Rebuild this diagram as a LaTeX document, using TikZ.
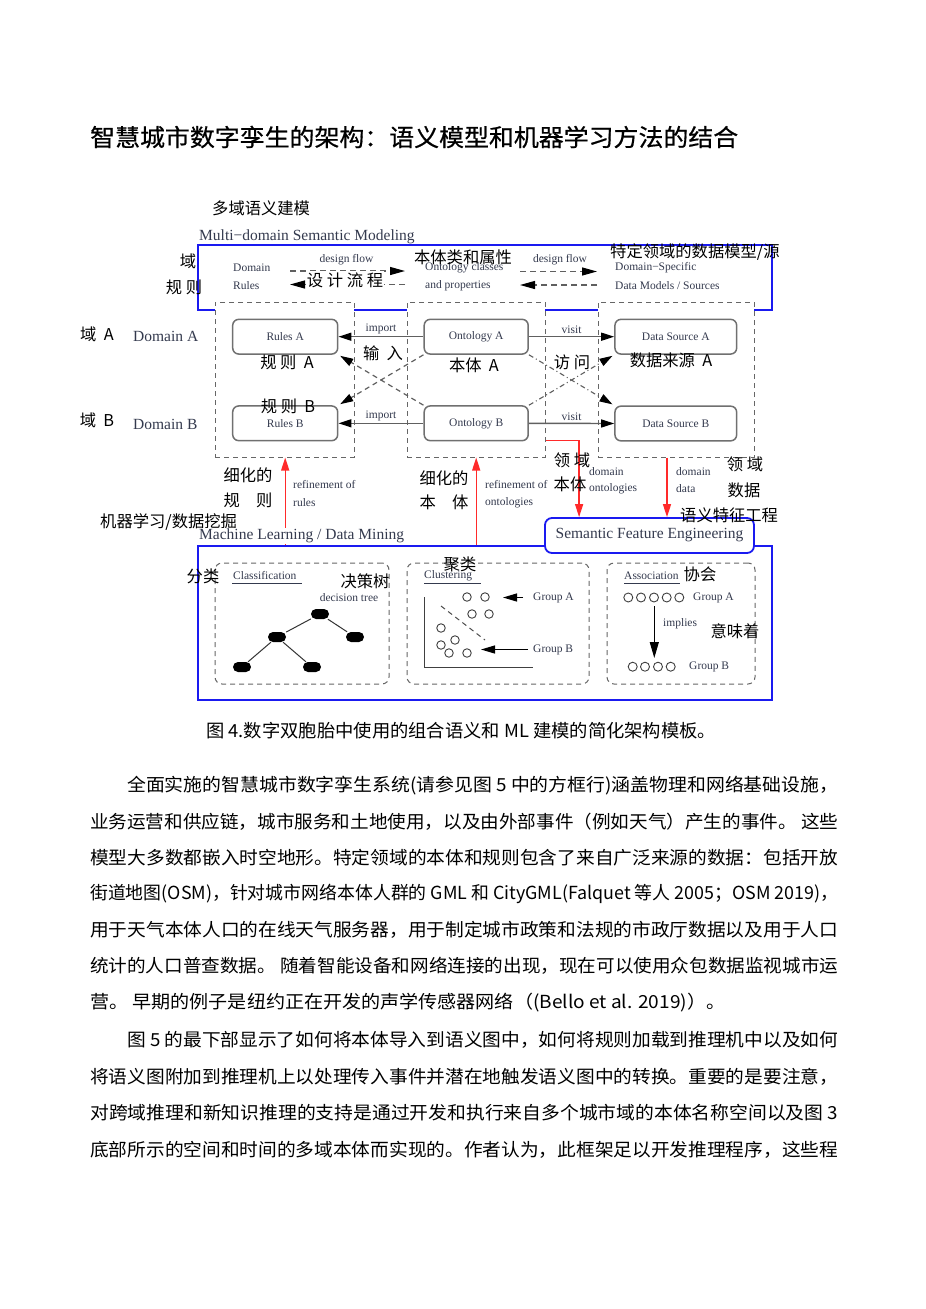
\documentclass[tikz,border=0pt]{standalone}
\usepackage{fontspec}
\usepackage{graphicx}
\usetikzlibrary{arrows.meta,calc}
\newfontfamily\cjk{Noto Sans CJK SC}
\newfontfamily\cjktitle[FakeBold=0.6]{Noto Sans CJK SC}
\newfontfamily\figserif{Liberation Serif}
\definecolor{figtext}{HTML}{343A4E}
\definecolor{boxgray}{HTML}{707070}
\definecolor{dashgray}{HTML}{666666}
\definecolor{linegray}{HTML}{606060}
\definecolor{figblue}{HTML}{1A1AF0}
\definecolor{figred}{HTML}{FF2A2A}
\newcommand{\fitw}[2]{\resizebox{#1}{\height}{#2}}
\tikzset{
  ftxt/.style={font=\figserif\fontsize{11.5}{13}\selectfont, text=figtext, inner sep=0pt},
  fbig/.style={font=\figserif\fontsize{15.5}{17}\selectfont, text=figtext, inner sep=0pt},
  ann/.style={font=\cjk\fontsize{16.3}{18}\selectfont, text=black, inner sep=0pt},
  body/.style={font=\cjk\fontsize{18}{20}\selectfont, text=black, inner sep=0pt, anchor=west},
  rbox/.style={draw=boxgray, line width=1.5pt, rounded corners=6pt, fill=white, inner sep=0pt, minimum height=34.7pt, font=\figserif\fontsize{11.5}{13}\selectfont, text=figtext},
  dcol/.style={draw=dashgray, line width=1pt, dash pattern=on 5pt off 4pt, fill=white, inner sep=0pt, minimum height=155pt},
  dbox/.style={draw=dashgray, line width=1pt, dash pattern=on 5pt off 4pt, rounded corners=7pt, inner sep=0pt, minimum height=121pt},
  bluebox/.style={draw=figblue, line width=1.8pt, inner sep=0pt},
  sfebox/.style={draw=figblue, line width=1.8pt, rounded corners=7pt, fill=white, inner sep=0pt, minimum width=209pt, minimum height=35pt, font=\figserif\fontsize{15.5}{17}\selectfont, text=figtext},
  solidarr/.style={draw=linegray, line width=1.4pt, -{Triangle[length=13pt,width=8pt,color=black]}},
  dasharr/.style={draw=linegray, line width=1.2pt, dash pattern=on 5pt off 4pt, -{Triangle[length=13pt,width=8pt,color=black]}},
  dotarr/.style={draw=linegray, line width=1.1pt, dash pattern=on 5pt off 3pt on 1pt off 3pt, -{Triangle[length=13pt,width=8pt,color=black]}},
  flowarr/.style={draw=linegray, line width=1.2pt, dash pattern=on 6pt off 4pt, -{Triangle[length=15pt,width=8pt,color=black]}},
  redarr/.style={draw=figred, line width=1.3pt, -{Triangle[length=13pt,width=8pt]}},
  pill/.style={fill=black, rounded corners=5pt, minimum width=18pt, minimum height=10pt, inner sep=0pt},
  ring/.style={circle, draw=black!75, line width=0.9pt, fill=white, minimum size=8.5pt, inner sep=0pt},
  blkarr/.style={draw=black, line width=1.2pt, -{Triangle[length=14pt,width=8pt]}},
  treeedge/.style={draw=black!80, line width=1pt},
  uline/.style={draw=figtext, line width=1pt},
}
\begin{document}
\begin{tikzpicture}[x=1pt,y=-1pt]
\fill[white] (0,0) rectangle (926,1309);
\useasboundingbox (0,0) rectangle (926,1309);

% ---------- title ----------
\node[font=\cjktitle\fontsize{24}{26}\selectfont, inner sep=0pt, anchor=west] (title) at (90,137)
  {\fitw{648pt}{智慧城市数字孪生的架构：语义模型和机器学习方法的结合}};

% ---------- figure: top ----------
\node[ann, anchor=west] (aMulti) at (212,208) {多域语义建模};
\node[fbig, anchor=west] (multi) at (199,237) {Multi−domain Semantic Modeling};
\node[bluebox, minimum width=574pt, minimum height=65pt] (topblue) at (485,277.5) {};

\node[ftxt, anchor=west] (dom1) at (233,268) {Domain};
\node[ftxt, anchor=west] (dom2) at (233,285.5) {Rules};
\node[ftxt] (flow1) at (346.5,260) {design flow};
\node[ftxt, anchor=west] (ont1) at (425,268) {Ontology classes};
\node[ftxt, anchor=west] (ont2) at (425,285.5) {and properties};
\node[ftxt] (flow2) at (560,260) {design flow};
\node[ftxt, anchor=west] (ds1) at (615,268) {Domain−Specific};
\node[ftxt, anchor=west] (ds2) at (615,285.5) {Data Models / Sources};

\coordinate (f1a) at (290,271);   \coordinate (f1b) at (405,271);
\coordinate (f2a) at (290,284.5); \coordinate (f2b) at (405,284.5);
\coordinate (f3a) at (520,271.5); \coordinate (f3b) at (597,271.5);
\coordinate (f4a) at (520,285);   \coordinate (f4b) at (597,285);
\draw[flowarr] (f1a) -- (f1b);
\draw[flowarr] (f2b) -- (f2a);
\draw[flowarr] (f3a) -- (f3b);
\draw[flowarr] (f4b) -- (f4a);

\node[ann] (aYu) at (188,261) {域};
\node[ann] (aGuize) at (184,287) {规 则};
\node[ann, fill=white, inner sep=1pt] (aSheji) at (345,280) {设 计 流 程};
\node[ann] (aBenti) at (463,257) {本体类和属性};
\node[ann, anchor=west] (aTeding) at (610,252) {特定领域的数据模型/源};

% ---------- columns ----------
\node[dcol, minimum width=139pt] (colL) at (284.5,379.5) {};
\node[dcol, minimum width=138pt] (colM) at (476,379.5) {};
\node[dcol, minimum width=156pt] (colR) at (676,379.5) {};

\node[rbox, minimum width=105pt] (rulesA) at (285.2,336.7) {Rules A};
\node[rbox, minimum width=105pt] (rulesB) at (285.2,423.3) {Rules B};
\node[rbox, minimum width=104pt] (ontA) at (476.2,336.7) {Ontology A};
\node[rbox, minimum width=104pt] (ontB) at (476.2,423.3) {Ontology B};
\node[rbox, minimum width=121.7pt] (dsA) at (675.8,336.7) {Data Source A};
\node[rbox, minimum width=121.7pt] (dsB) at (675.8,423.5) {Data Source B};

\draw[solidarr] (ontA.west) -- (rulesA.east) node[midway, above=2pt, ftxt] (impA) {import};
\draw[solidarr] (ontB.west) -- (rulesB.east) node[midway, above=2pt, ftxt] (impB) {import};
\draw[solidarr] (ontA.east) -- (dsA.west) node[midway, above=2pt, ftxt] (visA) {visit};
\draw[solidarr] (ontB.east) -- (dsB.west) node[midway, above=2pt, ftxt] (visB) {visit};
\draw[dasharr, shorten >=2pt] (ontB.north west) -- (rulesA.south east);
\draw[dasharr, shorten >=2pt] (ontA.south west) -- (rulesB.north east);
\draw[dotarr, shorten >=2pt] (ontA.south east) -- (dsB.north west);
\draw[dotarr, shorten >=2pt] (ontB.north east) -- (dsA.south west);

\node[ann] (aYuA) at (97,334) {域\ \ A};
\node[fbig, anchor=west] (domA) at (133,336) {Domain A};
\node[ann] (aYuB) at (97,420) {域\ \ B};
\node[fbig, anchor=west] (domB) at (133,424) {Domain B};
\node[ann] (aRA) at (287,362) {规 则\ \ A};
\node[ann] (aShuru) at (383,353) {输\ \ 入};
\node[ann] (aRB) at (288,406) {规 则\ \ B};
\node[ann] (aBA) at (474,365) {本体\ \ A};
\node[ann] (aFangwen) at (572,362) {访 问};
\node[ann] (aDSA) at (671,360) {数据来源\ \ A};

% ---------- lower connectors ----------
\node[bluebox, minimum width=574pt, minimum height=154pt] (ml) at (485,623) {};
\node[sfebox] (sfe) at (649.5,535.5) {Semantic Feature Engineering};

\draw[redarr] (ml.north -| rulesA) -- (colL.south -| rulesA);
\draw[redarr] (ml.north -| ontA) -- (colM.south -| ontA);
\draw[redarr] ([yshift=17pt]colM.south east) -| ([xshift=35pt]sfe.north west);
\draw[redarr] ([xshift=-9pt]colR.south) -- ([xshift=-9pt]colR.south |- sfe.north);

\node[ann] (aXiR1) at (248,475) {细化的};
\node[ann] (aXiR2) at (248,500) {规\quad 则};
\node[ftxt, anchor=west] (refR1) at (293,485) {refinement of};
\node[ftxt, anchor=west] (refR2) at (293,502.5) {rules};
\node[ann, anchor=west] (aML) at (100,522) {机器学习/数据挖掘};
\node[fbig, anchor=west, fill=white, inner sep=1pt] (mlT) at (198,536) {Machine Learning / Data Mining};
\node[ann] (aXiO1) at (444,478) {细化的};
\node[ann] (aXiO2) at (444,502.5) {本\quad 体};
\node[ftxt, anchor=west] (refO1) at (485,485) {refinement of};
\node[ftxt, anchor=west] (refO2) at (485,502.5) {ontologies};
\node[ann] (aLY1) at (572,460) {领 域};
\node[ann] (aLY2) at (570,484) {本体};
\node[ftxt, anchor=west] (dOnt1) at (589,472) {domain};
\node[ftxt, anchor=west] (dOnt2) at (589,489) {ontologies};
\node[ftxt, anchor=west] (dDat1) at (676,472) {domain};
\node[ftxt, anchor=west] (dDat2) at (676,489) {data};
\node[ann] (aLY3) at (745,464) {领 域};
\node[ann] (aSJ) at (744,490) {数据};
\node[ann, anchor=west] (aYYTZ) at (680,515) {语义特征工程};

% ---------- ML inner boxes ----------
\node[dbox, minimum width=174pt] (cls) at (302,623.5) {};
\node[dbox, minimum width=182pt] (clu) at (498,623.5) {};
\node[dbox, minimum width=148pt] (asc) at (681,623.5) {};

% classification
\node[ftxt, anchor=west] (clsT) at (233,576) {Classification};
\draw[uline] (232,583.5) -- (302,583.5);
\node[ann] (aFenlei) at (203,576) {分类};
\node[ann] (aJCS) at (365,581) {决策树};
\node[ftxt] (dtT) at (349,598) {decision tree};
\node[pill] (t1) at (320,614) {};
\node[pill] (t2) at (277,637) {};
\node[pill] (t3) at (355,637) {};
\node[pill] (t4) at (242,667) {};
\node[pill] (t5) at (312,667) {};
\draw[treeedge] (t1) -- (t2);
\draw[treeedge] (t1) -- (t3);
\draw[treeedge] (t2) -- (t4);
\draw[treeedge] (t2) -- (t5);

% clustering
\node[ftxt, anchor=west] (cluT) at (424,576) {Clustering};
\draw[uline] (424,583.5) -- (481,583.5);
\node[ann] (aJulei) at (460,564) {聚类};
\draw[draw=black!75, line width=1pt] (424,597) -- (424,667) -- (533,667);
\draw[draw=black!70, line width=1pt, dash pattern=on 5pt off 4pt] (441,606) -- (485,640);
\node[ring] (c1) at (467,597) {};
\node[ring] (c2) at (485,597) {};
\node[ring] (c3) at (472,614) {};
\node[ring] (c4) at (489,614) {};
\node[ring] (c5) at (441,628) {};
\node[ring] (c6) at (455,640) {};
\node[ring] (c7) at (441,645) {};
\node[ring] (c8) at (449,653) {};
\node[ring] (c9) at (467,653) {};
\node[ftxt, anchor=west] (gA) at (533,597.5) {Group A};
\node[ftxt, anchor=west] (gB) at (533,649.5) {Group B};
\coordinate (gAtip) at (503,597.5);
\coordinate (gBtip) at (481,649.5);
\draw[blkarr] ([xshift=-10pt]gA.west) -- (gAtip);
\draw[blkarr] ([xshift=-5pt]gB.west) -- (gBtip);

% association
\node[ftxt, anchor=west] (ascT) at (624,576) {Association};
\draw[uline] (624,583.5) -- (680,583.5);
\node[ann] (aXiehui) at (700,574) {协会};
\node[ring, minimum size=9pt] (a1) at (628.3,597.5) {};
\node[ring, minimum size=9pt] (a2) at (641,597.5) {};
\node[ring, minimum size=9pt] (a3) at (654,597.5) {};
\node[ring, minimum size=9pt] (a4) at (666.7,597.5) {};
\node[ring, minimum size=9pt] (a5) at (679.3,597.5) {};
\node[ftxt, anchor=west] (agA) at (693,597.5) {Group A};
\node[ring, minimum size=9pt] (b1) at (632.7,666.7) {};
\node[ring, minimum size=9pt] (b2) at (645,666.7) {};
\node[ring, minimum size=9pt] (b3) at (658,666.7) {};
\node[ring, minimum size=9pt] (b4) at (670.7,666.7) {};
\node[ftxt, anchor=west] (agB) at (689,666.7) {Group B};
\coordinate (impS) at (654.3,606);
\coordinate (impE) at (654.3,658);
\draw[blkarr, -{Triangle[length=16pt,width=9pt]}] (impS) -- (impE);
\node[ftxt, anchor=west] (implies) at (663,623.5) {implies};
\node[ann] (aYWZ) at (735,631) {意味着};

% ---------- caption & body ----------
\node[body, font=\cjk\fontsize{18}{20}\selectfont] (cap) at (206,731) {\fitw{510pt}{图 4.数字双胞胎中使用的组合语义和 ML 建模的简化架构模板。}};

\node[body] (p1) at (127,786) {\fitw{711pt}{全面实施的智慧城市数字孪生系统(请参见图 5 中的方框行)涵盖物理和网络基础设施，}};
\node[body] (p2) at (90,822) {\fitw{748pt}{业务运营和供应链，城市服务和土地使用，以及由外部事件（例如天气）产生的事件。 这些}};
\node[body] (p3) at (90,858) {\fitw{748pt}{模型大多数都嵌入时空地形。特定领域的本体和规则包含了来自广泛来源的数据：包括开放}};
\node[body] (p4) at (90,894) {\fitw{748pt}{街道地图(OSM)，针对城市网络本体人群的 GML 和 CityGML(Falquet 等人 2005；OSM 2019)，}};
\node[body] (p5) at (90,930) {\fitw{748pt}{用于天气本体人口的在线天气服务器，用于制定城市政策和法规的市政厅数据以及用于人口}};
\node[body] (p6) at (90,966) {\fitw{748pt}{统计的人口普查数据。 随着智能设备和网络连接的出现，现在可以使用众包数据监视城市运}};
\node[body] (p7) at (90,1003) {\fitw{635pt}{营。 早期的例子是纽约正在开发的声学传感器网络（(Bello et al. 2019)）。}};
\node[body] (p8) at (127,1040) {\fitw{711pt}{图 5 的最下部显示了如何将本体导入到语义图中，如何将规则加载到推理机中以及如何}};
\node[body] (p9) at (90,1077) {\fitw{748pt}{将语义图附加到推理机上以处理传入事件并潜在地触发语义图中的转换。重要的是要注意，}};
\node[body] (p10) at (90,1113) {\fitw{748pt}{对跨域推理和新知识推理的支持是通过开发和执行来自多个城市域的本体名称空间以及图 3}};
\node[body] (p11) at (90,1150) {\fitw{748pt}{底部所示的空间和时间的多域本体而实现的。作者认为，此框架足以开发推理程序，这些程}};
\end{tikzpicture}
\end{document}
